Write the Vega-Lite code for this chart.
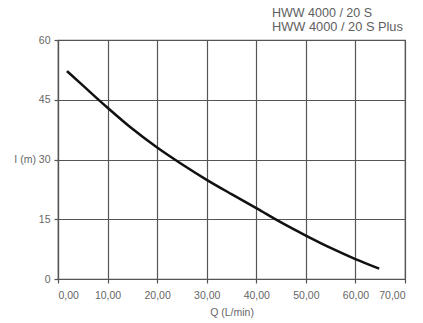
{
  "$schema": "https://vega.github.io/schema/vega-lite/v6.json",
  "width": 347,
  "height": 239,
  "autosize": {"type": "none"},
  "padding": {"left": 58, "top": 40, "right": 18, "bottom": 44},
  "background": "white",
  "title": {
    "text": "HWW 4000 / 20 S",
    "subtitle": "HWW 4000 / 20 S Plus",
    "anchor": "start",
    "frame": "group",
    "align": "left",
    "dx": 214,
    "offset": 1,
    "font": "Liberation Sans",
    "fontSize": 12.5,
    "fontWeight": "normal",
    "color": "#606060",
    "subtitleFont": "Liberation Sans",
    "subtitleFontSize": 12.8,
    "subtitleColor": "#606060",
    "subtitlePadding": 1.5
  },
  "config": {
    "view": {"stroke": "#555555", "strokeWidth": 1.2},
    "axis": {
      "labelFont": "Liberation Sans",
      "labelFontSize": 10.5,
      "labelColor": "#666666",
      "titleFont": "Liberation Sans",
      "titleFontSize": 10.5,
      "titleFontWeight": "normal",
      "titleColor": "#666666",
      "gridColor": "#555555",
      "gridOpacity": 1,
      "gridWidth": 1.2,
      "domainColor": "#555555",
      "domainWidth": 1.2,
      "tickColor": "#555555",
      "tickSize": 4,
      "tickWidth": 1.2
    }
  },
  "data": {
    "values": [
      {"q": 1.8, "h": 52.2},
      {"q": 5, "h": 48.6},
      {"q": 10, "h": 43.0},
      {"q": 15, "h": 37.7},
      {"q": 20, "h": 33.0},
      {"q": 25, "h": 28.8},
      {"q": 30, "h": 24.9},
      {"q": 35, "h": 21.3},
      {"q": 40, "h": 17.8},
      {"q": 45, "h": 14.2},
      {"q": 50, "h": 10.9},
      {"q": 55, "h": 7.8},
      {"q": 60, "h": 5.0},
      {"q": 64.8, "h": 2.6}
    ]
  },
  "mark": {"type": "line", "color": "#111111", "strokeWidth": 2.5, "interpolate": "monotone"},
  "encoding": {
    "x": {
      "field": "q",
      "type": "quantitative",
      "scale": {"domain": [0, 70], "nice": false},
      "axis": {
        "values": [0, 10, 20, 30, 40, 50, 60, 70],
        "format": ".2f",
        "labelExpr": "replace(datum.label, '.', ',')",
        "title": "Q (L/min)",
        "titlePadding": 7,
        "labelPadding": 7
      }
    },
    "y": {
      "field": "h",
      "type": "quantitative",
      "scale": {"domain": [0, 60], "nice": false},
      "axis": {
        "values": [0, 15, 30, 45, 60],
        "labelExpr": "datum.value == 30 ? 'I (m) 30' : datum.label",
        "title": null,
        "labelPadding": 4
      }
    }
  }
}
